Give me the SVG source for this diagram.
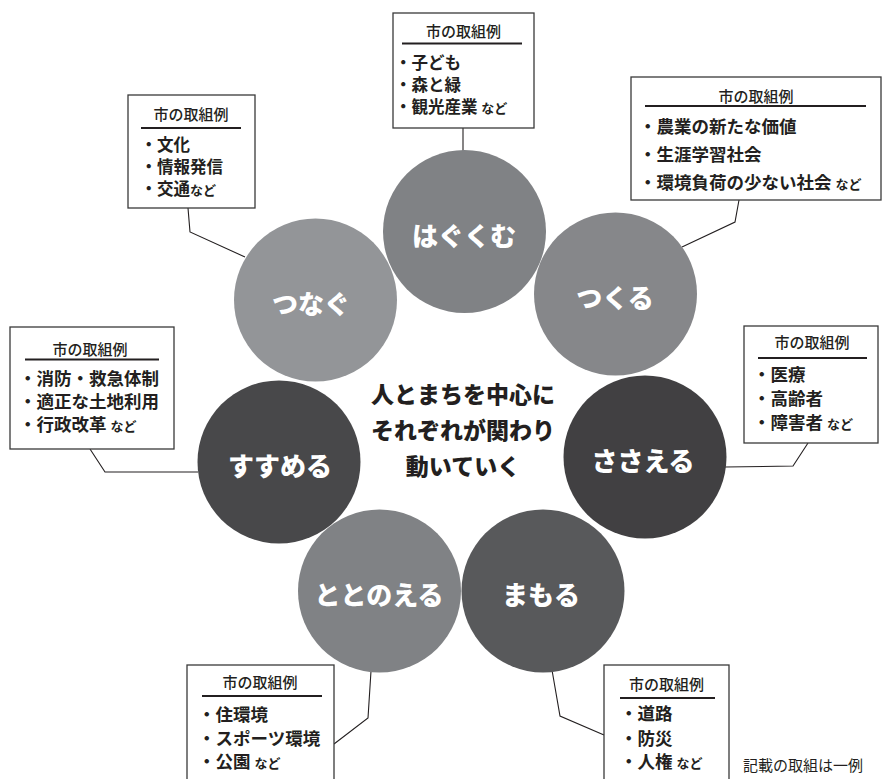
<svg xmlns="http://www.w3.org/2000/svg" width="893" height="779" viewBox="0 0 893 779">
<style>
text{font-family:"Noto Sans CJK JP","Noto Sans CJK SC",sans-serif;fill:#231f20}
.box{fill:#fff;stroke:#3a3a3a;stroke-width:1.3}
.ul{stroke:#231f20;stroke-width:2}
.hd{font-size:15px;font-weight:500;text-anchor:middle}
.it{font-size:17.5px;font-weight:700}
.it2{font-size:16.5px;font-weight:700}
.sm{font-size:13px}
.ct{font-size:26px;font-weight:900;fill:#fff;text-anchor:middle}
.cen{font-size:23px;font-weight:900;text-anchor:middle}
.con{fill:none;stroke:#231f20;stroke-width:1.1}
</style>
<rect width="893" height="779" fill="#fff"/>
<g id="connectors">
<polyline class="con" points="463,128 463,151"/>
<polyline class="con" points="739,200 735,222 682,247"/>
<polyline class="con" points="188,208 190,232 245,257"/>
<polyline class="con" points="90,449 105,472 198,472"/>
<polyline class="con" points="808,443 793,466 725,467"/>
<polyline class="con" points="371,671 368,718 334,744"/>
<polyline class="con" points="552,670 560,716 604,735"/>
</g>
<g id="node-hagukumu"><circle cx="464.5" cy="231.5" r="81.5" fill="#808285"/><text class="ct" x="464" y="246">はぐくむ</text></g>
<g id="node-tsukuru"><circle cx="615.5" cy="294" r="81.5" fill="#86878a"/><text class="ct" x="615" y="308">つくる</text></g>
<g id="node-sasaeru"><circle cx="645" cy="457" r="81.5" fill="#414042"/><text class="ct" x="643" y="471">ささえる</text></g>
<g id="node-mamoru"><circle cx="543" cy="591" r="81.5" fill="#58595b"/><text class="ct" x="541" y="605">まもる</text></g>
<g id="node-totonoeru"><circle cx="379.5" cy="591" r="81.5" fill="#808285"/><text class="ct" x="379" y="605">ととのえる</text></g>
<g id="node-susumeru"><circle cx="279" cy="462" r="81.5" fill="#48484a"/><text class="ct" x="280" y="476">すすめる</text></g>
<g id="node-tsunagu"><circle cx="315.5" cy="300" r="81.5" fill="#939598"/><text class="ct" x="311" y="314">つなぐ</text></g>
<g id="center-text">
<text class="cen" x="463" y="402.5">人とまちを中心に</text>
<text class="cen" x="463" y="438.5">それぞれが関わり</text>
<text class="cen" x="463" y="474.5">動いていく</text>
</g>
<g id="box-hagukumu">
<rect class="box" x="393" y="13" width="141" height="115"/>
<text class="hd" x="463.5" y="36.5">市の取組例</text>
<line class="ul" x1="402" y1="43.5" x2="522" y2="43.5"/>
<text class="it2" x="395" y="68.5">・子ども</text>
<text class="it2" x="395" y="90.5">・森と緑</text>
<text class="it2" x="395" y="112.5">・観光産業 <tspan class="sm">など</tspan></text>
</g>
<g id="box-tsukuru">
<rect class="box" x="631" y="77" width="250" height="123"/>
<text class="hd" x="756" y="101.5">市の取組例</text>
<line class="ul" x1="645" y1="106" x2="866" y2="106"/>
<text class="it" x="639" y="133">・農業の新たな価値</text>
<text class="it" x="639" y="161">・生涯学習社会</text>
<text class="it" x="639" y="189">・環境負荷の少ない社会 <tspan class="sm">など</tspan></text>
</g>
<g id="box-tsunagu">
<rect class="box" x="128" y="95" width="127" height="113"/>
<text class="hd" x="191" y="120">市の取組例</text>
<line class="ul" x1="141" y1="128" x2="241" y2="128"/>
<text class="it2" x="140.5" y="151">・文化</text>
<text class="it2" x="140.5" y="173">・情報発信</text>
<text class="it2" x="140.5" y="195">・交通<tspan class="sm">など</tspan></text>
</g>
<g id="box-susumeru">
<rect class="box" x="10" y="327" width="164" height="122"/>
<text class="hd" x="90" y="355">市の取組例</text>
<line class="ul" x1="25" y1="359.5" x2="159" y2="359.5"/>
<text class="it" x="19" y="385">・消防・救急体制</text>
<text class="it" x="19" y="408">・適正な土地利用</text>
<text class="it" x="19" y="431">・行政改革 <tspan class="sm">など</tspan></text>
</g>
<g id="box-sasaeru">
<rect class="box" x="744" y="326" width="134" height="117"/>
<text class="hd" x="812" y="348">市の取組例</text>
<line class="ul" x1="758" y1="358" x2="867" y2="358"/>
<text class="it" x="753" y="381">・医療</text>
<text class="it" x="753" y="405">・高齢者</text>
<text class="it" x="753" y="429">・障害者 <tspan class="sm">など</tspan></text>
</g>
<g id="box-totonoeru">
<rect class="box" x="187" y="665" width="147" height="120"/>
<text class="hd" x="260" y="688">市の取組例</text>
<line class="ul" x1="202" y1="696" x2="322" y2="696"/>
<text class="it" x="198" y="721">・住環境</text>
<text class="it" x="198" y="745">・スポーツ環境</text>
<text class="it" x="198" y="768">・公園 <tspan class="sm">など</tspan></text>
</g>
<g id="box-mamoru">
<rect class="box" x="604" y="665" width="125" height="120"/>
<text class="hd" x="666.5" y="690">市の取組例</text>
<line class="ul" x1="620" y1="698" x2="715" y2="698"/>
<text class="it" x="620" y="720">・道路</text>
<text class="it" x="620" y="745">・防災</text>
<text class="it" x="620" y="768">・人権 <tspan class="sm">など</tspan></text>
</g>
<text id="note" x="743" y="771" style="font-size:15px">記載の取組は一例</text>
</svg>
